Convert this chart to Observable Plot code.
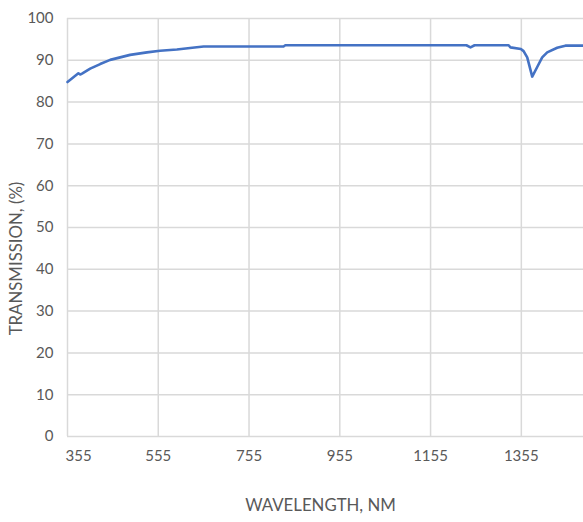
<!DOCTYPE html>
<html>
<head>
<meta charset="utf-8">
<script src="https://cdn.jsdelivr.net/npm/d3@7"></script>
<script src="https://cdn.jsdelivr.net/npm/@observablehq/plot@0.6"></script>
<style>
  html, body { margin: 0; padding: 0; background: #fff; }
  #chart { width: 583px; height: 522px; }
</style>
</head>
<body>
<div id="chart"></div>
<script>
const wavelength = [355, 379, 383, 387, 405, 427, 449, 471, 493, 530, 559, 596, 630, 655, 831, 835, 1234, 1243, 1252, 1327, 1331, 1354, 1360, 1368, 1379, 1390, 1401, 1412, 1434, 1452, 1492];
const transmission = [84.8, 86.9, 86.6, 86.8, 88.0, 89.1, 90.1, 90.7, 91.3, 91.9, 92.3, 92.6, 93.0, 93.3, 93.3, 93.6, 93.6, 93.1, 93.6, 93.6, 93.1, 92.7, 92.2, 90.7, 86.1, 88.4, 90.7, 91.9, 93.0, 93.5, 93.5];
const xTicks = [355, 555, 755, 955, 1155, 1355];
const yTicks = [0, 10, 20, 30, 40, 50, 60, 70, 80, 90, 100];
const xTitle = "WAVELENGTH, NM";
const yTitle = "TRANSMISSION, (%)";

const data = wavelength.map((w, i) => ({w, t: transmission[i]}));
const font = "Lato, 'Open Sans', sans-serif";
const grey = "#595959";
const fmt = d => String(d);

const chart = Plot.plot({
  width: 583,
  height: 522,
  marginLeft: 67,
  marginRight: 0,
  marginTop: 18,
  marginBottom: 86,
  style: {fontFamily: font, fontSize: "15px", color: grey, background: "#fff"},
  x: {domain: [355, 1492]},
  y: {domain: [0, 100]},
  marks: [
    Plot.gridX(xTicks, {stroke: "#d9d9d9", strokeOpacity: 1, strokeWidth: 1.5}),
    Plot.gridY(yTicks, {stroke: "#d9d9d9", strokeOpacity: 1, strokeWidth: 1.5}),
    Plot.axisY({ticks: yTicks, tickSize: 0, tickPadding: 14, label: null, fill: grey, fontSize: 15, tickFormat: fmt}),
    Plot.axisX({ticks: xTicks.slice(0, 1), tickSize: 0, tickPadding: 14, label: null, textAnchor: "start", dx: -2, fill: grey, fontSize: 15, tickFormat: fmt}),
    Plot.axisX({ticks: xTicks.slice(1), tickSize: 0, tickPadding: 14, label: null, fill: grey, fontSize: 15, tickFormat: fmt}),
    Plot.line(data, {x: "w", y: "t", stroke: "#4472C4", strokeWidth: 2.6, curve: "linear"}),
    Plot.text([xTitle], {frameAnchor: "bottom", textAnchor: "middle", dx: -5, dy: 74, text: d => d, fill: grey, fontSize: 16.8}),
    Plot.text([yTitle], {frameAnchor: "left", textAnchor: "middle", dx: -51, dy: 31, rotate: -90, text: d => d, fill: grey, fontSize: 16.8})
  ]
});
document.getElementById("chart").appendChild(chart);
</script>
</body>
</html>
